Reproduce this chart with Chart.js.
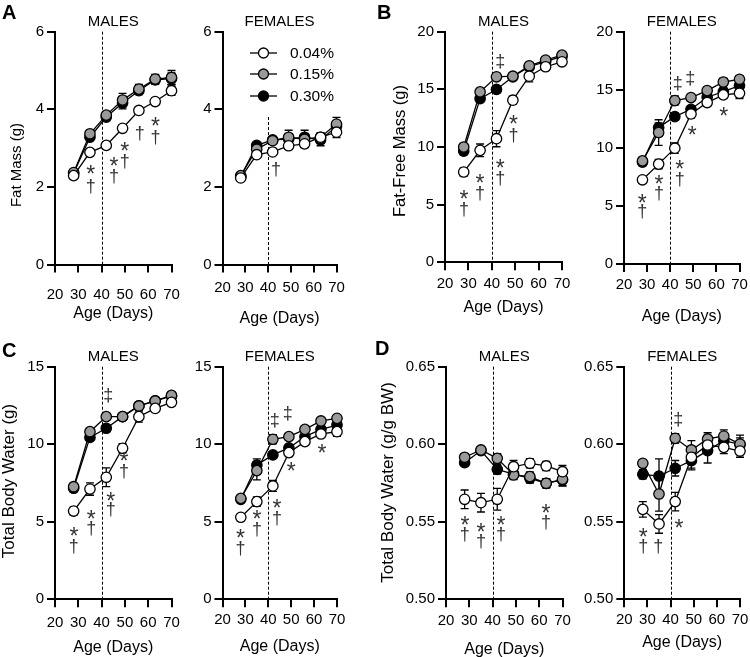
<!DOCTYPE html>
<html>
<head>
<meta charset="utf-8">
<script src="https://cdn.jsdelivr.net/npm/chart.js@4.4.1/dist/chart.umd.min.js"></script>
<style>
  html, body { margin: 0; padding: 0; background: #fff; }
  #fig { position: relative; width: 750px; height: 657px; overflow: hidden; }
  #fig canvas { position: absolute; }
</style>
</head>
<body>
<div id="fig"></div>
<script>
// ages (days) and dose groups
const days = [28, 35, 42, 49, 56, 63, 70];
const ageTicks = [20, 30, 40, 50, 60, 70];
const doses = ['0.04%', '0.15%', '0.30%'];

// A - fat mass (g), rows = 0.04 / 0.15 / 0.30 %
const fatMale = [
  [2.29, 2.89, 3.07, 3.51, 3.97, 4.20, 4.48],
  [2.37, 3.37, 3.85, 4.24, 4.52, 4.78, 4.82],
  [2.35, 3.28, 3.80, 4.16, 4.48, 4.76, 4.79]
];
const fatMaleSem = [
  [0.05, 0.06, 0.07, 0.06, 0.08, 0.08, 0.12],
  [0.05, 0.08, 0.08, 0.17, 0.12, 0.12, 0.18],
  [0.05, 0.08, 0.07, 0.15, 0.10, 0.12, 0.15]
];
const fatFemale = [
  [2.23, 2.83, 2.90, 3.06, 3.11, 3.28, 3.41],
  [2.29, 2.97, 3.19, 3.28, 3.23, 3.28, 3.62],
  [2.27, 3.07, 3.21, 3.23, 3.28, 3.21, 3.56]
];
const fatFemaleSem = [
  [0.05, 0.05, 0.06, 0.06, 0.10, 0.08, 0.14],
  [0.05, 0.06, 0.06, 0.18, 0.12, 0.12, 0.17],
  [0.05, 0.05, 0.08, 0.12, 0.18, 0.15, 0.12]
];

// B - fat-free mass (g)
const leanMale = [
  [7.83, 9.71, 10.72, 14.06, 16.14, 16.96, 17.39],
  [10.0, 14.78, 16.09, 16.14, 17.04, 17.54, 17.97],
  [9.65, 14.20, 14.99, 16.09, 16.96, 17.40, 17.85]
];
const leanMaleSem = [
  [0.35, 0.55, 0.70, 0.35, 0.50, 0.30, 0.30],
  [0.30, 0.30, 0.30, 0.30, 0.30, 0.30, 0.30],
  [0.30, 0.30, 0.30, 0.30, 0.30, 0.30, 0.30]
];
const leanFemale = [
  [7.25, 8.60, 9.97, 12.92, 13.90, 14.56, 14.70],
  [8.88, 11.32, 14.07, 14.33, 14.93, 15.67, 15.90],
  [8.77, 11.75, 12.69, 13.32, 14.36, 14.84, 15.36]
];
const leanFemaleSem = [
  [0.25, 0.40, 0.45, 0.35, 0.30, 0.30, 0.45],
  [0.30, 1.10, 0.40, 0.30, 0.30, 0.30, 0.30],
  [0.30, 0.40, 0.30, 0.30, 0.35, 0.30, 0.35]
];

// C - total body water (g)
const waterMale = [
  [5.69, 7.11, 7.87, 9.74, 11.78, 12.31, 12.70],
  [7.26, 10.81, 11.78, 11.78, 12.47, 12.79, 13.15],
  [7.16, 10.44, 11.03, 11.78, 12.47, 12.79, 13.11]
];
const waterMaleSem = [
  [0.25, 0.40, 0.60, 0.30, 0.35, 0.20, 0.20],
  [0.20, 0.20, 0.20, 0.20, 0.20, 0.20, 0.20],
  [0.20, 0.20, 0.20, 0.20, 0.25, 0.20, 0.20]
];
const waterFemale = [
  [5.29, 6.30, 7.31, 9.46, 10.17, 10.66, 10.81],
  [6.51, 8.30, 10.32, 10.49, 10.96, 11.50, 11.67],
  [6.45, 8.66, 9.31, 9.76, 10.49, 10.96, 11.24]
];
const waterFemaleSem = [
  [0.20, 0.30, 0.35, 0.25, 0.25, 0.20, 0.30],
  [0.20, 0.60, 0.30, 0.20, 0.20, 0.20, 0.20],
  [0.20, 0.40, 0.20, 0.20, 0.20, 0.20, 0.20]
];

// D - total body water (g/g BW)
const relWaterMale = [
  [0.5645, 0.5623, 0.5645, 0.5855, 0.5877, 0.5860, 0.5823],
  [0.5916, 0.5963, 0.5909, 0.5802, 0.5791, 0.5748, 0.5774],
  [0.5881, 0.5959, 0.5838, 0.5808, 0.5780, 0.5748, 0.5770]
];
const relWaterMaleSem = [
  [0.006, 0.006, 0.007, 0.004, 0.003, 0.003, 0.004],
  [0.002, 0.002, 0.003, 0.003, 0.003, 0.003, 0.004],
  [0.002, 0.002, 0.003, 0.003, 0.003, 0.003, 0.004]
];
const relWaterFemale = [
  [0.5580, 0.5486, 0.5630, 0.5916, 0.5995, 0.5980, 0.5956],
  [0.5877, 0.5679, 0.6038, 0.5963, 0.6034, 0.6053, 0.6001],
  [0.5806, 0.5795, 0.5845, 0.5894, 0.5959, 0.6023, 0.5999]
];
const relWaterFemaleSem = [
  [0.005, 0.006, 0.006, 0.007, 0.004, 0.004, 0.004],
  [0.002, 0.011, 0.003, 0.006, 0.004, 0.004, 0.004],
  [0.003, 0.011, 0.005, 0.006, 0.008, 0.004, 0.006]
];

// significance marks [age, value, symbol]
const fatMaleMarks = [[35.3, 2.44, '*'], [35.3, 2.01, '†'], [45.3, 2.66, '*'], [45.3, 2.27, '†'],
  [49.9, 3.04, '*'], [49.9, 2.66, '†'], [56.4, 3.38, '†'], [63.1, 3.68, '*'], [63.1, 3.28, '†']];
const fatFemaleMarks = [[43.5, 2.44, '†']];
const leanMaleMarks = [[28.1, 5.88, '*'], [28.1, 4.55, '†'], [35.0, 7.25, '*'], [35.0, 5.94, '†'],
  [43.6, 8.55, '*'], [43.6, 7.25, '†'], [49.3, 12.38, '*'], [49.3, 11.0, '†'], [43.6, 17.4, '‡']];
const leanFemaleMarks = [[27.9, 5.67, '*'], [27.9, 4.53, '†'], [35.1, 7.25, '*'], [35.1, 6.05, '†'],
  [44.1, 8.54, '*'], [44.1, 7.31, '†'], [49.5, 11.46, '*'], [63.2, 13.12, '*'],
  [43.3, 15.56, '‡'], [48.7, 15.99, '‡']];
const waterMaleMarks = [[28.1, 4.36, '*'], [28.1, 3.40, '†'], [35.6, 5.50, '*'], [35.6, 4.58, '†'],
  [43.9, 6.66, '*'], [43.9, 5.76, '†'], [49.6, 9.20, '*'], [49.6, 8.23, '†'], [42.9, 13.17, '‡']];
const waterFemaleMarks = [[27.9, 4.26, '*'], [27.9, 3.29, '†'], [35.1, 5.44, '*'], [35.1, 4.47, '†'],
  [43.8, 6.19, '*'], [43.8, 5.22, '†'], [50.0, 8.55, '*'], [63.4, 9.74, '*'],
  [42.8, 11.56, '‡'], [48.5, 11.99, '‡']];
const relWaterMaleMarks = [[28.1, 0.5511, '*'], [28.1, 0.5421, '†'], [35.0, 0.5464, '*'], [35.0, 0.5374, '†'],
  [43.6, 0.5511, '*'], [43.6, 0.5421, '†'], [62.9, 0.5587, '*'], [62.9, 0.5496, '†']];
const relWaterFemaleMarks = [[28.2, 0.5430, '*'], [28.2, 0.5340, '†'], [34.7, 0.5340, '†'],
  [43.6, 0.5486, '*'], [43.3, 0.6160, '‡']];

const fatTicks = [0, 2, 4, 6];
const leanTicks = [0, 5, 10, 15, 20];
const waterTicks = [0, 5, 10, 15];
const relWaterTicks = [0.50, 0.55, 0.60, 0.65];

const FONT = '"Liberation Sans", Arial, Helvetica, sans-serif';
Chart.defaults.font.family = FONT;
Chart.defaults.color = '#000';
const fills = ['#ffffff', '#9a9a9a', '#000000'];
const fig = document.getElementById('fig');

// draw text with its ink centred on yc
function inkText(ctx, s, x, yc, align) {
  ctx.textAlign = align || 'center';
  ctx.textBaseline = 'alphabetic';
  const m = ctx.measureText(s);
  ctx.fillText(s, x, yc + (m.actualBoundingBoxAscent - m.actualBoundingBoxDescent) / 2);
}

function panel(p) {
  const [bx, by, bw, bh] = p.box;
  const [L, T, R, B] = p.area;
  const cv = document.createElement('canvas');
  cv.width = bw; cv.height = bh;
  cv.style.left = bx + 'px'; cv.style.top = by + 'px';
  fig.appendChild(cv);

  const axisGrid = { drawOnChartArea: false, drawTicks: true, tickLength: 8, tickWidth: 2, color: '#000', lineWidth: 2 };
  const yMax = p.yTicks[p.yTicks.length - 1];

  const deco = {
    id: 'deco',
    beforeDatasetsDraw(chart) {
      const { ctx, chartArea: a, scales: { x, y } } = chart;
      ctx.save();
      // dashed line at day 40
      ctx.strokeStyle = '#000';
      ctx.lineWidth = 1;
      ctx.setLineDash([3, 2]);
      const xp = Math.round(x.getPixelForValue(40)) + 0.5;
      ctx.beginPath();
      ctx.moveTo(xp, y.getPixelForValue(p.dashTop !== undefined ? p.dashTop : yMax));
      ctx.lineTo(xp, a.bottom);
      ctx.stroke();
      ctx.setLineDash([]);
      // error bars
      ctx.lineWidth = 1.3;
      p.values.forEach((vals, i) => {
        vals.forEach((v, j) => {
          const e = p.sem[i][j];
          const px = x.getPixelForValue(days[j]);
          const t = y.getPixelForValue(v + e), b = y.getPixelForValue(v - e);
          ctx.beginPath();
          ctx.moveTo(px, t); ctx.lineTo(px, b);
          ctx.moveTo(px - 4, t); ctx.lineTo(px + 4, t);
          ctx.moveTo(px - 4, b); ctx.lineTo(px + 4, b);
          ctx.stroke();
        });
      });
      ctx.restore();
    },
    afterDatasetsDraw(chart) {
      const { ctx, chartArea: a, scales: { x, y } } = chart;
      ctx.save();
      ctx.fillStyle = '#333';
      p.marks.forEach(([mx, my, s]) => {
        ctx.font = (s === '*' ? '23px ' : '18px ') + FONT;
        inkText(ctx, s, x.getPixelForValue(mx), y.getPixelForValue(my));
      });

      ctx.fillStyle = '#000';
      ctx.font = '15px ' + FONT;
      inkText(ctx, p.title, (a.left + a.right) / 2, a.top - 10.5);

      if (p.letter) {
        ctx.font = 'bold 20px ' + FONT;
        inkText(ctx, p.letter[0], p.letter[1] - bx, p.letter[2] - by, 'left');
      }
      if (p.yTitle) {
        ctx.font = p.yTitle[3] + 'px ' + FONT;
        ctx.translate(p.yTitle[1] - bx, p.yTitle[2] - by);
        ctx.rotate(-Math.PI / 2);
        inkText(ctx, p.yTitle[0], 0, 0);
        ctx.setTransform(1, 0, 0, 1, 0, 0);
      }
      if (p.legend) {
        const [lx0, lx1, tx, rows] = p.legend;
        ctx.font = '15.5px ' + FONT;
        doses.forEach((d, i) => {
          const yy = rows[i] - by;
          ctx.strokeStyle = '#000';
          ctx.lineWidth = 1.3;
          ctx.beginPath();
          ctx.moveTo(lx0 - bx, yy); ctx.lineTo(lx1 - bx, yy);
          ctx.stroke();
          ctx.beginPath();
          ctx.arc((lx0 + lx1) / 2 - bx, yy, 5, 0, Math.PI * 2);
          ctx.fillStyle = fills[i];
          ctx.fill();
          ctx.stroke();
          ctx.fillStyle = '#000';
          inkText(ctx, d, tx - bx, yy, 'left');
        });
      }
      ctx.restore();
    }
  };

  return new Chart(cv, {
    type: 'line',
    data: {
      datasets: p.values.map((vals, i) => ({
        label: doses[i],
        data: vals.map((v, j) => ({ x: days[j], y: v })),
        borderColor: '#000',
        borderWidth: 1.3,
        pointRadius: 5.2,
        pointBorderWidth: 1.3,
        pointBackgroundColor: fills[i],
        pointBorderColor: '#000',
        backgroundColor: fills[i],
        clip: false
      }))
    },
    options: {
      responsive: false,
      animation: false,
      events: [],
      layout: { padding: { left: 0, top: T - by, right: bx + bw - R, bottom: by + bh - B - p.xH } },
      plugins: { legend: { display: false }, tooltip: { enabled: false } },
      scales: {
        x: {
          type: 'linear', min: 20, max: 70,
          grid: axisGrid,
          border: { color: '#000', width: 2 },
          afterBuildTicks: s => { s.ticks = ageTicks.map(v => ({ value: v })); },
          afterFit: s => { s.height = p.xH; s.paddingLeft = 0; s.paddingRight = 0; },
          ticks: { font: { size: 15 }, color: '#000', padding: p.tickPad, maxRotation: 0, autoSkip: false },
          title: { display: true, text: 'Age (Days)', font: { size: 16 }, color: '#000', padding: 0 }
        },
        y: {
          type: 'linear', min: p.yTicks[0], max: yMax,
          grid: axisGrid,
          border: { color: '#000', width: 2 },
          afterBuildTicks: s => { s.ticks = p.yTicks.map(v => ({ value: v })); },
          afterFit: s => { s.width = L - bx; s.paddingTop = 0; s.paddingBottom = 0; },
          ticks: { font: { size: 15 }, color: '#000', padding: 3,
            callback: v => p.decimals ? Number(v).toFixed(p.decimals) : v }
        }
      }
    },
    plugins: [deco]
  });
}

// A
panel({ box: [0, 0, 190, 330], area: [55, 31.7, 171.5, 264.5], xH: 58.6, tickPad: 13,
  values: fatMale, sem: fatMaleSem, marks: fatMaleMarks, yTicks: fatTicks,
  title: 'MALES', letter: ['A', 2, 12], yTitle: ['Fat Mass (g)', 16.5, 165, 15] });
panel({ box: [185, 0, 180, 335], area: [222.5, 31.7, 336.5, 264.5], xH: 63.6, tickPad: 6,
  values: fatFemale, sem: fatFemaleSem, marks: fatFemaleMarks, yTicks: fatTicks, dashTop: 3.8,
  title: 'FEMALES', legend: [250, 277, 290, [53, 74, 96]] });
// B
panel({ box: [370, 0, 205, 330], area: [445, 31.7, 562, 262.3], xH: 55.3, tickPad: 5,
  values: leanMale, sem: leanMaleSem, marks: leanMaleMarks, yTicks: leanTicks,
  title: 'MALES', letter: ['B', 377, 12], yTitle: ['Fat-Free Mass (g)', 400, 151, 16.5] });
panel({ box: [575, 0, 175, 335], area: [624, 31.7, 739.5, 264], xH: 62.6, tickPad: 4,
  values: leanFemale, sem: leanFemaleSem, marks: leanFemaleMarks, yTicks: leanTicks,
  title: 'FEMALES' });
// C
panel({ box: [0, 325, 190, 340], area: [55, 366.7, 171.5, 599.3], xH: 58.3, tickPad: 7,
  values: waterMale, sem: waterMaleSem, marks: waterMaleMarks, yTicks: waterTicks,
  title: 'MALES', letter: ['C', 2, 350], yTitle: ['Total Body Water (g)', 9.5, 481, 17] });
panel({ box: [185, 325, 180, 340], area: [222.5, 366.7, 337, 599.3], xH: 57.3, tickPad: 4,
  values: waterFemale, sem: waterFemaleSem, marks: waterFemaleMarks, yTicks: waterTicks,
  title: 'FEMALES' });
// D
panel({ box: [370, 325, 205, 340], area: [446, 366.7, 562.5, 599.3], xH: 60.3, tickPad: 5,
  values: relWaterMale, sem: relWaterMaleSem, marks: relWaterMaleMarks, yTicks: relWaterTicks, decimals: 2,
  title: 'MALES', letter: ['D', 375, 348], yTitle: ['Total Body Water (g/g BW)', 388, 482.5, 17] });
panel({ box: [575, 325, 175, 340], area: [624.3, 366.7, 740, 599.3], xH: 53.3, tickPad: 4,
  values: relWaterFemale, sem: relWaterFemaleSem, marks: relWaterFemaleMarks, yTicks: relWaterTicks, decimals: 2,
  title: 'FEMALES' });
</script>
</body>
</html>
